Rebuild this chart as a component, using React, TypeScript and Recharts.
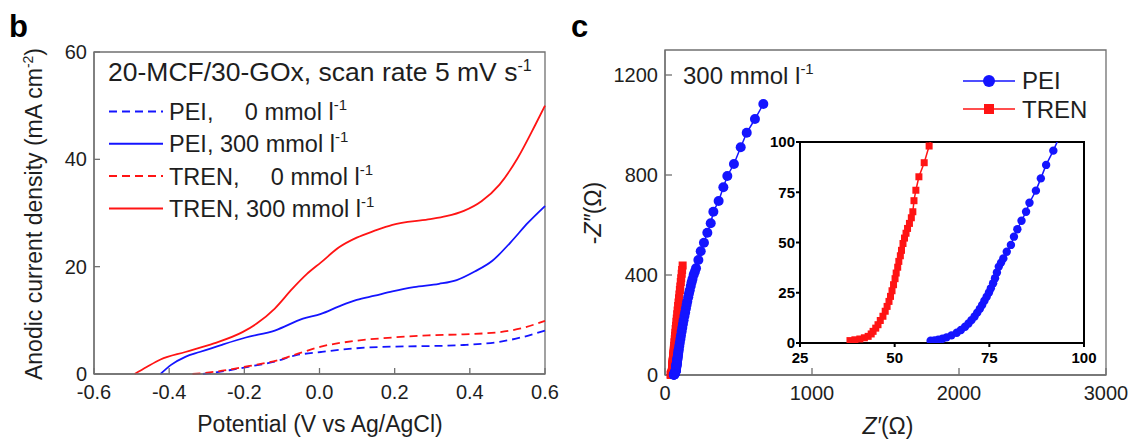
import React from "react";
import { LineChart, Line, XAxis, YAxis, ReferenceArea, Legend } from "recharts";

const FONT = '"Liberation Sans", Arial, sans-serif';
const BLUE = "#1414ff";
const RED = "#ff1414";
const AXIS = "#707070";
const INK = "#1e1e1e";

// panel b: anodic current density (mA cm-2) vs potential (V vs Ag/AgCl)
const potPei0 = [-0.31, -0.24, -0.186, -0.119, -0.062, 0.004, 0.099, 0.194, 0.289, 0.384, 0.479, 0.536, 0.6];
const curPei0 = [0, 0.7, 1.4, 2.3, 3.5, 4.1, 4.8, 5.1, 5.2, 5.4, 6.0, 6.8, 8.1];
const potPei300 = [-0.423, -0.395, -0.357, -0.319, -0.262, -0.196, -0.119, -0.044, 0.004, 0.052, 0.099, 0.147, 0.194, 0.251, 0.318, 0.365, 0.413, 0.46, 0.508, 0.555, 0.6];
const curPei300 = [0, 1.7, 3.2, 4.1, 5.4, 6.8, 8.1, 10.3, 11.2, 12.6, 13.8, 14.6, 15.4, 16.2, 16.8, 17.5, 19.1, 21.1, 24.5, 28.2, 31.3];
const potTren0 = [-0.338, -0.281, -0.186, -0.11, -0.044, 0.004, 0.099, 0.194, 0.289, 0.384, 0.479, 0.536, 0.6];
const curTren0 = [0, 0.4, 1.5, 2.6, 4.1, 5.1, 6.2, 6.8, 7.2, 7.4, 7.8, 8.5, 9.9];
const potTren300 = [-0.492, -0.46, -0.423, -0.357, -0.281, -0.205, -0.167, -0.119, -0.072, -0.034, 0.004, 0.052, 0.099, 0.147, 0.194, 0.289, 0.337, 0.384, 0.431, 0.479, 0.527, 0.574, 0.6];
const curTren300 = [0, 1.3, 2.7, 4.1, 5.7, 7.8, 9.4, 12.2, 15.9, 18.6, 20.8, 23.6, 25.4, 26.7, 27.8, 28.8, 29.4, 30.4, 32.2, 35.3, 40.2, 46.4, 50];

const potTicks = [-0.6, -0.4, -0.2, 0, 0.2, 0.4, 0.6];
const curTicks = [0, 20, 40, 60];

// panel c: Nyquist plot, Z' and -Z'' in ohm
const peiZre = [
  59.5, 60.5, 61.5, 62.6, 63.7, 65.0, 66.4, 67.5, 68.6, 69.5, 70.3, 71.1, 71.8, 72.5, 73.1, 73.7, 74.3, 74.9,
  75.4, 76.0, 76.5, 77.0, 77.5, 78.1, 78.7, 79.6, 80.7, 81.5, 82.4, 83.5, 84.7, 85.6, 87.3, 88.6, 90.0, 91.9,
  93.6, 97.2, 100.8, 105, 108.7, 113.3, 117.6, 122, 126.5, 132.4, 137, 142.2, 147, 151.4, 158, 163, 168.4, 175.3,
  181, 187.2, 195, 203, 211, 227, 243, 265, 288, 311, 329, 365, 397, 424, 469, 515, 556, 612, 669,
];
const peiZim = [
  1.1, 1.3, 1.6, 2.1, 2.8, 3.8, 5.1, 6.5, 8.1, 9.7, 11.4, 13.2, 15.1, 17.0, 18.9, 21.0, 23.0, 25.1,
  27.2, 29.7, 32.2, 35.1, 38.0, 40.0, 42.1, 45.4, 48.8, 52.9, 56.6, 60.8, 65.3, 69.8, 75.8, 81.9, 88.6, 95.7,
  103, 116, 129, 144, 158, 174, 189, 204, 219, 236, 250, 266, 281, 294, 311, 326, 339, 356,
  371, 384, 401, 413, 427, 460, 495, 529, 569, 607, 653, 696, 751, 796, 844, 911, 969, 1024, 1084,
];
const trenZre = [
  38.2, 39.5, 40.8, 42.0, 43.0, 43.8, 44.3, 45.0, 45.6, 46.2, 46.9, 47.5, 48.0, 48.5, 48.9, 49.3, 49.7, 50.1,
  50.4, 50.8, 51.1, 51.5, 51.8, 52.2, 52.6, 53.0, 53.4, 53.9, 54.4, 54.8, 55.1, 55.6, 56.4, 57.8, 59.1,
  60.4, 62.1, 64.0, 66.2, 68.1, 70.3, 72.4, 75.0, 77.6, 80.1, 83.0, 85.8, 89.1, 92.0, 95.2, 98.1, 101.3,
  104.2, 107.4, 110.3, 113.6, 116.4, 120,
];
const trenZim = [
  1.2, 1.6, 2.0, 2.6, 3.3, 4.5, 5.8, 7.4, 9.1, 11.2, 13.3, 15.8, 18.2, 20.7, 23.2, 26, 29, 32,
  34.8, 37.7, 40.6, 43.4, 46.1, 49.5, 52.2, 54.6, 57, 59.5, 62.3, 65.3, 70.8, 76, 82.7, 89.7, 98,
  106, 117, 131, 143, 157, 169, 184, 197, 213, 226, 243, 258, 276, 290, 307, 322, 340,
  354, 372, 387, 405, 420, 438,
];

const zreTicks = [0, 1000, 2000, 3000];
const zimTicks = [0, 400, 800, 1200];
const insetXTicks = [25, 50, 75, 100];
const insetYTicks = [0, 25, 50, 75, 100];

const zip = (xs: number[], ys: number[]) => xs.map((x, i) => ({ x, y: ys[i] }));

// conc "0" entries are right aligned with the "300" ones, like the original legend
const lsvSeries = [
  { name: "PEI,", conc: "0", end: 347, color: BLUE, dash: "8 5", data: zip(potPei0, curPei0) },
  { name: "PEI,", conc: "300", end: 347, color: BLUE, dash: undefined, data: zip(potPei300, curPei300) },
  { name: "TREN,", conc: "0", end: 373, color: RED, dash: "8 5", data: zip(potTren0, curTren0) },
  { name: "TREN,", conc: "300", end: 373, color: RED, dash: undefined, data: zip(potTren300, curTren300) },
];

const peiData = zip(peiZre, peiZim);
const trenData = zip(trenZre, trenZim);

const tickStyle = { fontSize: 20, fill: INK, fontFamily: FONT };
const insetTick = { fontSize: 15, fill: "#000", fontWeight: 700, fontFamily: FONT };

const squareDot = (size: number) => (p: any) => (
  <rect key={`sq-${size}-${p.index}`} x={p.cx - size / 2} y={p.cy - size / 2} width={size} height={size} fill={RED} />
);

const lsvLegend = () => (
  <svg width={560} height={441} style={{ position: "absolute", left: 0, top: 0, overflow: "visible" }}>
    <text x={108} y={81} fontSize={26.5} fill={INK} fontFamily={FONT}>
      20-MCF/30-GOx, scan rate 5 mV s<tspan dy={-10} fontSize={16}>-1</tspan>
    </text>
    {lsvSeries.map((s, i) => {
      const base = 120 + i * 32.3;
      return (
        <g key={i} fontFamily={FONT} fontSize={23.5} fill={INK}>
          <line x1={109} x2={163} y1={base - 8.5} y2={base - 8.5} stroke={s.color} strokeWidth={2} strokeDasharray={s.dash} />
          {s.conc === "0" ? (
            <>
              <text x={169} y={base}>{s.name}</text>
              <text x={s.end} y={base} textAnchor="end">
                0 mmol l<tspan dy={-10} fontSize={15}>-1</tspan>
              </text>
            </>
          ) : (
            <text x={169} y={base}>
              {s.name} {s.conc} mmol l<tspan dy={-10} fontSize={15}>-1</tspan>
            </text>
          )}
        </g>
      );
    })}
  </svg>
);

const eisLegend = () => (
  <svg width={568} height={441} style={{ position: "absolute", left: 0, top: 0, overflow: "visible" }}>
    <g fontFamily={FONT} fontSize={24} fill={INK}>
      <line x1={403} x2={455} y1={81} y2={81} stroke={BLUE} strokeWidth={1.5} />
      <circle cx={429} cy={81} r={6} fill={BLUE} />
      <text x={462} y={89}>PEI</text>
      <line x1={403} x2={455} y1={109} y2={109} stroke={RED} strokeWidth={1.5} />
      <rect x={424} y={104} width={10} height={10} fill={RED} />
      <text x={462} y={118}>TREN</text>
    </g>
  </svg>
);

export default function App() {
  return (
    <div style={{ position: "absolute", left: 0, top: 0, width: 1128, height: 441, background: "#fff", fontFamily: FONT }}>
      <div style={{ position: "absolute", left: 0, top: 0 }}>
        <LineChart width={560} height={441} margin={{ top: 52, right: 15, bottom: 37, left: 34 }}>
          <XAxis
            type="number"
            dataKey="x"
            domain={[-0.6, 0.6]}
            ticks={potTicks}
            interval={0}
            tickFormatter={(v: number) => v.toFixed(1)}
            tick={tickStyle}
            tickSize={-6}
            tickMargin={17}
            height={30}
            stroke={AXIS}
            strokeWidth={1.3}
            allowDuplicatedCategory={false}
          />
          <YAxis
            type="number"
            domain={[0, 60]}
            ticks={curTicks}
            interval={0}
            tick={tickStyle}
            tickSize={-6}
            tickMargin={13}
            width={60}
            stroke={AXIS}
            strokeWidth={1.3}
          />
          <ReferenceArea x1={-0.6} x2={0.6} y1={0} y2={60} fill="none" stroke={AXIS} strokeWidth={1.3} />
          {lsvSeries.map((s, i) => (
            <Line
              key={i}
              data={s.data}
              dataKey="y"
              type="monotone"
              stroke={s.color}
              strokeWidth={1.8}
              strokeDasharray={s.dash}
              dot={false}
              activeDot={false}
              isAnimationActive={false}
            />
          ))}
          <Legend layout="vertical" align="center" verticalAlign="middle" wrapperStyle={{ left: 0, top: 0, width: 560, height: 441, pointerEvents: "none" }} content={lsvLegend} />
          <text x={9} y={37} fontSize={31} fontWeight={700} fill="#000" fontFamily={FONT}>b</text>
          <text x={320} y={432} fontSize={23} fill={INK} textAnchor="middle" fontFamily={FONT}>Potential (V vs Ag/AgCl)</text>
          <text x={42} y={214} fontSize={23} fill={INK} textAnchor="middle" fontFamily={FONT} transform="rotate(-90, 42, 214)">
            Anodic current density (mA cm<tspan dy={-9} fontSize={14}>-2</tspan><tspan dy={9}>)</tspan>
          </text>
        </LineChart>
      </div>

      <div style={{ position: "absolute", left: 560, top: 0 }}>
        <LineChart width={568} height={441} margin={{ top: 50, right: 22, bottom: 36, left: 45 }}>
          <XAxis
            type="number"
            dataKey="x"
            domain={[0, 3000]}
            ticks={zreTicks}
            interval={0}
            tick={tickStyle}
            tickSize={-7}
            tickMargin={18}
            height={30}
            stroke={AXIS}
            strokeWidth={1.3}
            allowDuplicatedCategory={false}
          />
          <YAxis
            type="number"
            domain={[0, 1300]}
            ticks={zimTicks}
            interval={0}
            tick={tickStyle}
            tickSize={-7}
            tickMargin={14}
            width={60}
            stroke={AXIS}
            strokeWidth={1.3}
          />
          <ReferenceArea x1={0} x2={3000} y1={0} y2={1300} fill="none" stroke={AXIS} strokeWidth={1.3} />
          <Line data={trenData} dataKey="y" type="linear" stroke={RED} strokeWidth={1.5} dot={squareDot(8)} activeDot={false} isAnimationActive={false} />
          <Line data={peiData} dataKey="y" type="linear" stroke={BLUE} strokeWidth={1.5} dot={{ r: 5, fill: BLUE, stroke: "none" }} activeDot={false} isAnimationActive={false} />
          <Legend layout="vertical" align="center" verticalAlign="middle" wrapperStyle={{ left: 0, top: 0, width: 568, height: 441, pointerEvents: "none" }} content={eisLegend} />
          <text x={11} y={37} fontSize={31} fontWeight={700} fill="#000" fontFamily={FONT}>c</text>
          <text x={123} y={84} fontSize={24} fill={INK} fontFamily={FONT}>
            300 mmol l<tspan dy={-10} fontSize={15}>-1</tspan>
          </text>
          <text x={328} y={434} fontSize={23} fill={INK} textAnchor="middle" fontFamily={FONT}>
            <tspan fontStyle="italic">Z′</tspan>(Ω)
          </text>
          <text x={41} y={213} fontSize={23} fill={INK} textAnchor="middle" fontFamily={FONT} transform="rotate(-90, 41, 213)">
            -<tspan fontStyle="italic">Z″</tspan>(Ω)
          </text>
        </LineChart>
      </div>

      <div style={{ position: "absolute", left: 760, top: 120 }}>
        <LineChart width={340} height={250} margin={{ top: 22, right: 16, bottom: 7, left: 10 }}>
          <XAxis
            type="number"
            dataKey="x"
            domain={[25, 100]}
            ticks={insetXTicks}
            interval={0}
            allowDataOverflow
            tick={insetTick}
            tickSize={4}
            tickMargin={5}
            height={20}
            stroke="#000"
            strokeWidth={2}
            allowDuplicatedCategory={false}
          />
          <YAxis
            type="number"
            domain={[0, 100]}
            ticks={insetYTicks}
            interval={0}
            allowDataOverflow
            tick={insetTick}
            tickSize={4}
            tickMargin={1}
            width={30}
            stroke="#000"
            strokeWidth={2}
          />
          <ReferenceArea x1={25} x2={100} y1={0} y2={100} fill="none" stroke="#000" strokeWidth={2} />
          <Line data={trenData} dataKey="y" type="linear" stroke={RED} strokeWidth={1.5} dot={squareDot(7)} activeDot={false} isAnimationActive={false} />
          <Line data={peiData} dataKey="y" type="linear" stroke={BLUE} strokeWidth={1.5} dot={{ r: 4.2, fill: BLUE, stroke: "none" }} activeDot={false} isAnimationActive={false} />
        </LineChart>
      </div>
    </div>
  );
}
